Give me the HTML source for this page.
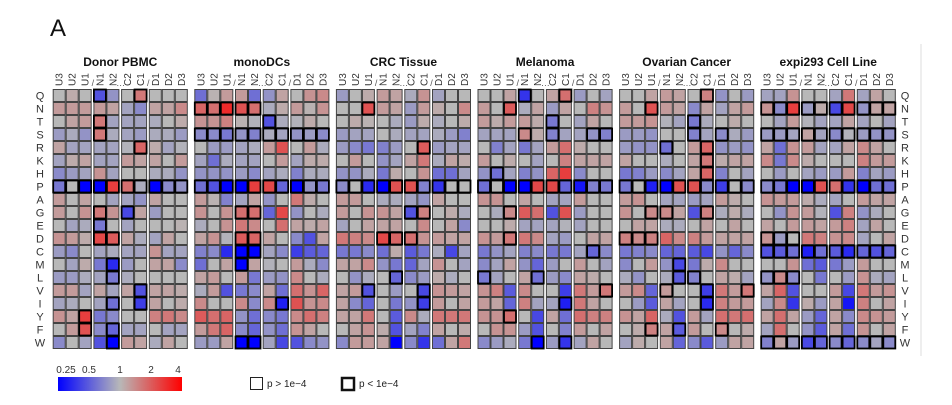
<!DOCTYPE html>
<html><head><meta charset="utf-8"><style>
html,body{margin:0;padding:0;background:#fff;width:952px;height:405px;overflow:hidden}
svg{display:block;font-family:"Liberation Sans",Arial,sans-serif}
</style></head><body>
<svg id="chart" width="952" height="405" viewBox="0 0 952 405">
<text x="50" y="36" font-size="24" fill="#111">A</text>
<line x1="921" y1="44" x2="921" y2="356" stroke="#e2e2e2" stroke-width="1.2"/>
<g id="cells"></g><g id="bolds"></g><g id="labels"></g>
<g>
<defs><linearGradient id="cg" x1="0" x2="1"><stop offset="0" stop-color="#0000ff"/><stop offset="0.5" stop-color="#b8b8b8"/><stop offset="1" stop-color="#ff0000"/></linearGradient></defs>
<rect x="58" y="377" width="124" height="14" fill="url(#cg)"/>
</g>
<g>
<rect x="250.5" y="377.5" width="12" height="12" fill="#fff" stroke="#222" stroke-width="1"/>
<text x="267" y="387" font-size="10" fill="#222">p &gt; 1e−4</text>
<rect x="342" y="378" width="12" height="12" fill="#fff" stroke="#111" stroke-width="2.5"/>
<text x="359" y="387" font-size="10" fill="#222">p &lt; 1e−4</text>
</g>
</svg>
<script>
const panels=["Donor PBMC","monoDCs","CRC Tissue","Melanoma","Ovarian Cancer","expi293 Cell Line"];
const rowsLab=["Q","N","T","S","R","K","H","P","A","G","E","D","C","M","L","V","I","Y","F","W"];
const colsLab=["U3","U2","U1","N1","N2","C2","C1","D1","D2","D3"];
const legendTicks=["0.25","0.5","1","2","4"];
const legendVals=[-2,-1,0,1,2];
// log2 fold-change values per panel, row by row
const v1=[[0,0.2,0,-1.2,-0.5,0,0.8,0,0,0],[0.4,0.4,0.4,0.4,0.3,-0.3,-0.6,0.3,0.3,0.6],[0,0.3,0.4,0.8,-0.3,-0.3,-0.3,-0.2,0,0.2],[-0.4,-0.2,-0.5,0.8,-0.2,-0.3,-0.4,-0.2,-0.2,-0.4],[0.3,-0.3,-0.3,-0.3,-0.3,-0.1,1.0,0.2,-0.3,-0.1],[-0.3,0.2,0.3,-0.3,-0.3,0.4,0.3,0.3,0,0.4],[-0.6,-0.4,-0.3,0.5,-0.3,0,0,-0.2,-0.2,-0.5],[-0.8,0,-2,-2,1.4,0.9,-0.2,-2,-0.6,-0.5],[0.4,0,0.3,0,-0.3,-0.3,-0.5,0.3,0,0],[0.4,0,0.5,0.8,0.5,-1.3,0.3,-0.4,0,0],[0,-0.3,-0.2,-0.8,0,-0.3,0,0,0,0.1],[0.5,0.4,0.2,1.3,1.1,0.3,-0.2,-0.3,0.3,0],[-0.4,-0.6,0,-0.3,-0.2,-0.3,-0.3,0.5,-0.3,-0.3],[0,-0.3,0.2,-0.8,-1.6,-0.4,0,0.3,0.3,-0.6],[-0.4,-0.4,-0.2,-0.3,-0.8,-0.2,0,0,0,0],[0.4,0.4,-0.3,0.3,-0.3,0.3,-1.2,0.3,0.3,0.2],[-0.3,-0.2,0,-0.3,-0.9,0,-1.4,0.3,0,0.2],[0.5,0.3,1.4,-0.8,-0.6,0,0,0.7,0.8,0.6],[0,0.4,1.2,-0.6,-1.0,-0.3,-0.3,0,-0.3,-0.3],[-0.6,0,-0.3,-1.2,-2,0.4,0.3,-0.2,0.3,0]];
const v2=[[-0.9,0.1,0.4,0.4,-0.9,-0.5,0.3,0,0.5,0.6],[1.0,0.9,1.6,1.2,0.9,-0.2,0.2,0.4,0.1,0.5],[0.5,0.5,0.7,0.1,-0.1,-1.2,-0.2,-0.1,0.2,0],[-0.6,-0.6,-0.8,-0.5,-0.7,-0.2,-0.3,-0.5,-0.4,-0.6],[0,-0.4,-0.4,-0.3,-0.2,0.4,1.2,0,0.4,-0.2],[-0.3,-0.9,-0.2,-0.3,-0.3,0,0.4,-0.3,0.2,0.2],[-0.5,-0.5,-0.5,-0.4,-0.6,-0.3,-0.2,-0.7,-0.2,-0.2],[-0.9,-1.2,-2,-2,1.4,1.3,-1.0,-2,-0.5,-0.8],[0.4,0.1,-0.7,-0.3,0.3,-0.5,0,0.8,0.2,0],[0.5,0,0.5,0.9,0.9,-1.0,1.3,-0.5,0,-0.2],[-0.2,0,0.5,0.8,0.6,0,0.9,0.3,0.2,0.3],[0.3,0.5,-0.1,1.1,1.0,0.3,0,-0.6,-1.2,0.3],[-0.7,-0.6,-1.6,-2,-2,-0.3,-0.6,-1.4,-1.1,-1.0],[-0.9,0,0.3,-2,0.3,-0.1,0,0.4,-0.2,-0.6],[0.3,0.4,0,0.4,-0.8,-0.4,-0.5,0.6,0,-0.2],[-0.2,0.4,-1.2,-0.8,-0.6,0.3,-0.9,0.9,0.5,1.0],[0.6,0,0,0.6,-0.6,0.6,-1.7,1.2,0.5,0.6],[1.1,0.9,1.0,-0.5,-0.9,-0.6,-0.8,0.6,0.9,0.7],[0.4,0.8,1.0,-0.6,-1.0,-0.5,-0.9,0.5,0.3,0],[-0.4,-0.4,0.3,-2,-2,-0.3,-1.3,-1.2,-0.6,-0.5]];
const v3=[[-0.4,0,0.2,0.4,0.3,-0.2,0.5,-0.3,0,0],[0,0,1.2,0.4,0.3,-0.4,0.4,0.2,0,0.6],[0,0.2,0.1,0,-0.2,-0.4,0.2,-0.2,0,0.2],[-0.4,-0.3,-0.3,0,-0.2,-0.3,-0.3,-0.2,-0.4,-0.7],[-0.4,-0.6,-0.8,-0.7,-0.4,0,1.1,-0.4,-0.3,-0.3],[0,0.4,0,-0.5,-0.3,0.3,0.8,-0.2,0.3,0.2],[-0.5,-0.5,-0.2,-0.8,0.2,0,0.5,-0.9,-0.9,-0.3],[-0.6,0,-1.6,-2,1.2,1.2,-0.7,-1.5,0,0],[0.4,0.4,0,-0.2,-0.2,-0.3,-0.5,0.3,0,0],[0.4,0,0.5,0.5,0.3,-1.2,0.7,0,0.2,-0.2],[-0.3,0,0.3,0.3,0.3,0,0.6,0,0.3,-0.6],[0.8,0.7,0.6,1.3,1.0,0.9,0.5,0.4,0.3,0.3],[-0.8,-0.8,-0.6,-0.9,0.2,-1.1,-0.8,-0.2,-1.3,-0.3],[0.3,0.3,0.6,-0.5,-0.8,-1.0,-0.3,0.5,0,-0.3],[0,-0.5,-0.2,0,-1.0,-0.6,-0.4,0.2,-0.2,0],[0.3,0.4,-1.2,0,-0.4,0,-1.3,0.5,0.4,0.3],[0.3,-0.6,-1.0,0,-0.8,-0.5,-1.4,0.4,0,0.3],[0.3,0.3,0.8,0,-1.1,0.6,-0.2,0.8,0.8,0.8],[0,0.3,0.5,0.2,-1.2,-0.3,-0.7,0.3,0,0.2],[-0.6,0.4,0.4,0.3,-2,-0.6,-1.5,-0.9,0.3,0.8]];
const v4=[[0,0,0.3,-1.5,0,0.3,0.9,-0.4,0,-0.3],[0.4,0,1.1,-0.2,0.3,-0.4,0.3,0,0.7,0.5],[0.4,0.2,0.4,0.4,0.2,-0.8,0,-0.3,0.3,0],[-0.3,-0.3,-0.3,0.6,0.2,-0.7,-0.3,-0.3,-0.5,-0.7],[0,-0.7,-0.3,-0.8,-0.3,0.4,0.9,0.2,0,0],[0.4,0,0.2,0,-0.3,0,0.7,0.3,0.3,0.3],[-0.5,-0.9,-0.3,-0.7,-0.5,1.0,1.4,-0.6,0,0],[-0.9,0,-2,-2,1.3,1.3,-1.0,-1.8,-0.7,-0.8],[0.5,0.5,0,0.3,0,-0.3,-0.3,0.4,0,0],[0,-0.2,0.6,1.1,0.9,-1.2,1.2,-0.4,0,0],[0,0,0.2,-0.3,-0.3,-0.3,-0.1,-0.3,0,0],[0.5,0.4,0.8,0.8,0.6,-0.3,-0.4,0,0.3,0.3],[-0.8,-0.5,-0.3,-0.7,-0.6,-0.8,-0.8,-0.3,-1.0,-0.6],[-0.6,-0.3,0.3,-0.5,-1.0,-0.4,0,0.4,0,-0.3],[-0.8,-0.3,0,0.3,-0.9,-0.4,-0.6,0.3,0.2,0],[0.5,0.7,-1.1,0.6,0,0,-1.4,0.8,0.4,0.8],[0.4,0.3,-1.0,0.7,-0.3,-0.3,-1.7,0.8,0.3,0],[0.5,0.5,0.9,0,-1.3,0.3,-0.9,0.9,0.7,0.7],[0,0.5,0.5,-0.4,-1.2,0,-0.7,0.4,0,0.3],[-0.6,-0.4,-0.2,-0.8,-2,-0.4,-1.5,-0.3,0.3,0]];
const v5=[[0,0,0.3,0.4,0.3,0,0.7,-0.5,0,-0.4],[0.4,0,1.2,0.4,0.3,-0.6,0.3,-0.3,0.3,0.4],[0.4,0.4,0.5,-0.1,-0.3,-0.8,-0.2,0,0.2,0],[-0.4,-0.4,-0.5,0,0,-0.7,-0.3,-0.6,-0.2,-0.4],[-0.4,-0.5,-0.5,-0.9,0,0.4,1.0,-0.5,-0.4,-0.5],[0.3,0,0,-0.2,0,0.3,0.8,0.2,0.3,0.3],[-0.8,-0.7,-0.4,-0.6,-0.3,0.3,1.0,-0.7,0,-0.3],[-0.8,0,-1.7,-2,1.2,1.2,-0.6,-1.4,0,-0.6],[0.4,0.5,0,-0.3,-0.3,-0.4,-0.3,0.4,0.2,0],[0.5,0,0.6,0.6,0.3,-1.2,0.7,-0.2,0.2,-0.2],[0,0.3,0.3,-0.2,-0.2,0,0.3,0,0.3,0],[0.7,0.6,0.7,1.0,0.6,0.7,0.4,0.3,0.3,0.3],[-0.8,-0.7,-0.6,-1.0,-1.0,-1.1,-1.3,-0.5,-1.0,-0.6],[-0.6,0,0.4,-0.5,-1.3,-0.8,0.2,0.6,0,0],[-0.2,-0.5,0,-0.2,-1.1,-0.7,0,0.3,0.2,-0.3],[0.4,0.6,-1.0,0.4,0,0,-1.4,0.8,0.4,0.8],[0,-0.4,-1.1,0.3,-0.3,0,-1.6,0.7,0.4,0.4],[0.5,0.3,1.0,-0.2,-1.2,0.4,-0.3,0.9,0.8,0.9],[0,0.2,0.7,0.3,-1.1,0.4,0,0.6,0,0.2],[-0.3,0.2,0,0.3,-1.0,-0.6,-1.1,-0.4,0.3,0.3]];
const v6=[[-0.3,-0.3,0.5,0,0,-0.3,0.8,-0.3,0.3,0],[0.5,-0.6,1.4,-0.4,0.2,-1.3,1.3,-0.5,0.3,0.3],[0,-0.3,0.4,-0.1,-0.3,-0.3,0.3,-0.3,0,-0.3],[-0.4,-0.4,-0.3,0.3,-0.3,-0.6,-0.1,-0.4,-0.5,-0.5],[0.3,-0.9,0.5,0.4,-0.3,-0.3,0.3,0.6,0.3,0],[0.6,-0.8,0.6,0.2,0,0,0,0.7,0.4,0.4],[0,-0.4,0,-0.3,-0.4,-0.4,0.4,-0.7,-0.3,-0.4],[-0.6,-0.8,-2,-2,1.2,0.9,-1.5,-2,-0.9,-0.9],[0.5,0.4,0.4,0.2,-0.2,-0.3,0,0.4,0.3,0.3],[0,-0.5,0.5,0.4,-0.1,-1.2,0.7,-0.5,-0.2,0],[0.3,0,0.4,0.4,0.3,0.4,0.7,-0.3,0.3,0],[0.5,-0.4,0,0.8,0.7,0.5,0.6,-0.3,0,0.3],[-1.2,-1.1,-0.9,-1.7,-0.9,-1.1,-1.6,-1.0,-1.2,-1.0],[0,0,0.5,-0.9,-1.1,-0.8,-0.4,0.4,0,0],[-0.5,0.6,-0.6,0,-0.8,0,-0.4,0.5,-0.2,-0.3],[0.3,1.0,-1.2,0,0,0.4,-1.3,0.8,0.4,0.5],[-0.3,0.6,-1.5,0.2,-0.4,0.3,-1.8,0.7,0,0.3],[0.3,0.9,0.3,-0.4,-1.0,0.3,-0.6,0.6,0.5,0.4],[-0.3,0.9,0,-0.5,-1.1,0.3,-0.9,0.5,0,0.3],[-0.7,0.3,-0.4,-1.3,-1.0,-0.6,-1.0,-0.6,-0.3,-0.6]];
const values=[v1,v2,v3,v4,v5,v6];
// significance (p<1e-4) flags per panel row
const s1=["0001001000","0000000000","0001000000","0001000000","0000001000","0000000000","0000000000","1111111111","0000000000","0001010000","0001000000","0001100000","0000000000","0000100000","0000100000","0000001000","0000101000","0010000000","0010100000","0000100000"];
const s2=["0000000000","1111100000","0000010000","1111111111","0000000000","0000000000","0000000000","1111111111","0000000000","0001100000","0000000000","0001100000","0001100000","0001000000","0000000000","0000000000","0000001000","0000000000","0000000000","0001100000"];
const s3=["0000000000","0010000000","0000000000","0000000000","0000001000","0000000000","0000000000","1111111111","0000000000","0000011000","0000000000","0001110000","0000000000","0000000000","0000100000","0010001000","0000001000","0000000000","0000000000","0000000000"];
const s4=["0001001000","0010000000","0000010000","0001010011","0000000000","0000000000","0100000000","1111111111","0000000000","0010000000","0000000000","0010000000","0000000010","0000000000","1000100000","0000000001","0000001000","0010000000","0000000000","0000101000"];
const s5=["0000001000","0010000000","0000010000","0000010100","0001001000","0000001000","0000001000","1111111111","0000000000","0011001000","0000000000","1110000000","0000000000","0000100000","0000110000","0001001001","0000001000","0000000000","0010100100","0000000000"];
const s6=["0000000000","1111111111","0000000000","1111111111","0000000000","0000000000","0000000000","1111111111","0000000000","0000000000","0000000000","1110000000","1111111111","0000000000","1110000000","0000000000","0000000000","0000000000","0000000000","1111111111"];
const sig=[s1,s2,s3,s4,s5,s6];

const NS="http://www.w3.org/2000/svg";
const CELL=13, GAP=1.7, X0=52.7, PSTEP=141.6, Y0=89;
const groupOf=[0,0,0,1,1,2,2,3,3,3];
function xCol(p,c){return X0+p*PSTEP+c*CELL+groupOf[c]*GAP;}
function yRow(r){return Y0+r*CELL;}
function color(v){
  v=Math.max(-2,Math.min(2,v));const g=[184,184,184];let t,a;
  if(v<0){t=-v/2;a=[0,0,255];}else{t=v/2;a=[255,0,0];}
  t=Math.pow(t,1.15);
  const c=g.map((x,i)=>Math.round(x+(a[i]-x)*t));return `rgb(${c[0]},${c[1]},${c[2]})`;
}
function mk(tag,attrs,parent){const e=document.createElementNS(NS,tag);for(const k in attrs)e.setAttribute(k,attrs[k]);parent.appendChild(e);return e;}
const gC=document.getElementById('cells'),gB=document.getElementById('bolds'),gL=document.getElementById('labels');
values.forEach((pv,p)=>{
  pv.forEach((row,r)=>{
    row.forEach((v,c)=>{
      const e=mk('rect',{x:xCol(p,c)+0.5,y:yRow(r)+0.5,width:CELL-1,height:CELL-1,fill:color(v),stroke:'#444','stroke-width':1},gC);
      
      
      if(sig[p][r][c]==='1'){
        const b=mk('rect',{x:xCol(p,c)+0.5,y:yRow(r)+0.5,width:CELL-1,height:CELL-1,fill:'none',stroke:'#000','stroke-width':1.8},gB);
        
        
      }
    });
  });
  const cx=(xCol(p,0)+xCol(p,9)+CELL)/2;
  const t=mk('text',{x:cx,y:66,'font-size':12,'font-weight':'bold','text-anchor':'middle',fill:'#111'},gL);
  t.textContent=panels[p];
  
  
  colsLab.forEach((cl,c)=>{
    const x=xCol(p,c)+CELL/2+3.5, y=86;
    const ct=mk('text',{x:x,y:y,'font-size':10,fill:'#333',transform:`rotate(-90 ${x} ${y})`},gL);
    ct.textContent=cl;
    
    
  });
  [[2,'/'],[4,'…'],[6,'/']].forEach(([c,s])=>{
    const x=xCol(p,c+1)-0.5, y=86;
    const st=mk('text',{x:x,y:y,'font-size':9,fill:'#555','text-anchor':'middle'},gL);
    st.textContent=s;
    
    
  });
});
rowsLab.forEach((rl,r)=>{
  const y=yRow(r)+CELL/2+4;
  const a=mk('text',{x:40,y:y,'font-size':11,fill:'#333','text-anchor':'middle'},gL);
  a.textContent=rl;
  
  
  const b=mk('text',{x:905,y:y,'font-size':11,fill:'#333','text-anchor':'middle'},gL);
  b.textContent=rl;
  
  
});
legendTicks.forEach((lt,i)=>{
  const x=58+(legendVals[i]+2)/4*124;
  const t=mk('text',{x:Math.min(Math.max(x,66),178),y:373,'font-size':10,fill:'#333','text-anchor':'middle'},gL);
  t.textContent=lt;
  
  
});
</script>
</body></html>
